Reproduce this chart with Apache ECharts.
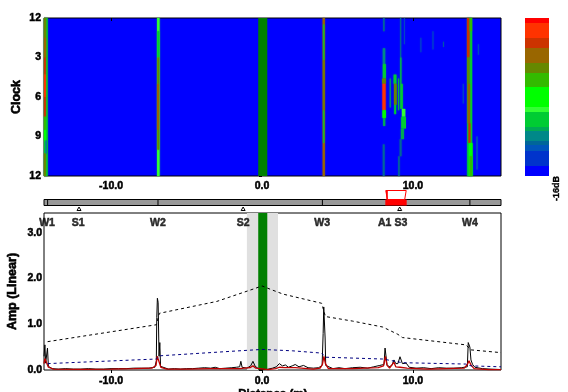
<!DOCTYPE html>
<html><head><meta charset="utf-8"><style>html,body{margin:0;padding:0;background:#fff}#c{width:568px;height:392px}</style>
<script src="https://cdn.jsdelivr.net/npm/echarts@6/dist/echarts.min.js"></script></head><body><div id="c"></div><script>
const xMin=-14.44, xMax=15.83, ampMax=3.435;
const xTicks=[-10,0,10], ampTicks=[0,1,2,3], clockTicks=[0,3,6,9,12];
const levelColors=['#0000ff','#0033cc','#0055bb','#006699','#008888','#00aa55','#00cc33','#33ff33','#00ff00','#33bb00','#668800','#996600','#cc3300','#ff3300','#ff0000'];
const bandSizes=[10,15,6,4,10,4,15,5,20,14,10,15,10,15,5];
// [xFrom,xTo,clockFrom,clockTo,level]
const streaks=[
[-14.44,-14.2,0,12,6],[-14.44,-14.3,0,1.5,10],[-14.44,-14.3,1.5,3,11],[-14.44,-14.32,3,4.3,12],[-14.44,-14.32,4.3,6,13],[-14.44,-14.32,6,7.5,12],[-14.44,-14.32,7.5,8.5,9],[-14.44,-14.32,8.5,9.3,8],[-14.34,-14.24,9.3,10.3,4],[-14.44,-14.32,10.3,12,10],
[-6.95,-6.79,0,12,7],[-6.93,-6.81,1,3,6],[-6.93,-6.81,3,5,10],[-6.95,-6.81,5,8.5,11],[-6.93,-6.81,8.5,10,10],
[4.02,4.16,0,12,11],[4.06,4.12,0.5,3.2,6],[4.06,4.12,3.2,7,10],[4.06,4.12,7,9.5,6],
[8.0,8.16,2.3,3.5,4],[8.0,8.2,3.5,4.6,6],[7.96,8.2,4.6,5.0,10],[7.98,8.18,5.0,7.0,13],[7.98,8.2,7.0,7.6,8],[8.02,8.16,7.6,8.2,5],
[8.02,8.12,0,1,3],[8.0,8.12,9.6,12,3],
[8.46,8.52,4.6,6.8,5],
[8.72,8.9,4.3,5,6],[8.74,8.92,5,6.6,10],[8.76,8.88,6.6,7.3,6],
[9.02,9.08,4.6,7,6],
[9.14,9.22,0,3,3],[9.14,9.24,3,5,5],[9.16,9.32,5,6.9,6],[9.26,9.5,6.9,7.5,7],[9.22,9.54,7.5,8.4,6],[9.2,9.4,8.4,9.2,5],[9.12,9.24,9.2,10.5,3],[9.02,9.12,10.5,12,3],
[9.4,9.45,0,2,2],[10.5,10.55,1.5,2.6,2],[11.3,11.35,1,2.4,2],[12,12.05,1.8,2.2,3],[14.3,14.35,2,2.8,2],[14.2,14.28,9,11.5,2],[13.3,13.35,5,6.5,2],
[13.6,13.93,0,12,6],[13.58,13.74,0,3,12],[13.6,13.74,3,5,10],[13.62,13.78,5,8,11],[13.68,13.8,8,9.5,12],[13.72,13.94,9.5,12,8],[13.76,13.9,0,1,9],[13.76,13.9,10.5,12,9]
];
const markerNames=['W1','S1','W2','S2','W3','A1','S3','W4'];
const labelX=[-14.24,-12.18,-6.89,-1.25,3.98,8.12,9.2,13.77];
const weldX=[-14.2,-6.89,4.0,13.77];
const sensorX=[-12.12,-1.25,9.12];
const upperEnv=[[-14.2,0.62],[-7.0,0.99],[-6.8,1.24],[-3,1.5],[-0.5,1.78],[0,1.84],[0.6,1.76],[1.4,1.66],[3.95,1.46],[4.2,1.17],[6,1.07],[8,0.94],[9,0.78],[9.3,0.71],[13.5,0.55],[13.85,0.44],[15.83,0.38]];
const lowerEnv=[[-14.2,0.14],[-7.0,0.24],[-6.8,0.31],[-2,0.41],[0,0.45],[2,0.42],[3.95,0.37],[4.2,0.28],[8,0.24],[9.3,0.16],[13.5,0.13],[13.85,0.09],[15.83,0.07]];
const blackTrace=[[-14.44,0.3],[-14.38,0.55],[-14.33,0.15],[-14.26,0.12],[-14.21,0.48],[-14.15,0.08],[-13.9,0.03],[-13.5,0.02],[-13,0.03],[-12.5,0.02],[-12,0.02],[-11.5,0.03],[-11,0.02],[-10.5,0.02],[-10,0.03],[-9.5,0.03],[-9,0.03],[-8.5,0.04],[-8,0.04],[-7.5,0.04],[-7.1,0.06],[-7.0,0.2],[-6.97,1.15],[-6.93,1.57],[-6.88,1.48],[-6.82,0.3],[-6.77,0.6],[-6.72,0.08],[-6.2,0.02],[-5.8,0.03],[-5.4,0.02],[-5,0.03],[-4.6,0.03],[-4.2,0.04],[-3.8,0.05],[-3.4,0.04],[-3.1,0.06],[-2.8,0.03],[-2.4,0.04],[-2.0,0.05],[-1.7,0.06],[-1.48,0.07],[-1.4,0.19],[-1.32,0.06],[-1.0,0.04],[-0.75,0.09],[-0.6,0.19],[-0.45,0.08],[-0.2,0.02],[0.3,0.01],[0.7,0.04],[0.95,0.07],[1.15,0.14],[1.35,0.09],[1.55,0.11],[1.75,0.06],[2.0,0.09],[2.2,0.12],[2.45,0.07],[2.75,0.1],[3.05,0.05],[3.4,0.04],[3.75,0.05],[3.98,0.1],[4.05,0.8],[4.09,1.38],[4.14,1.38],[4.18,0.7],[4.22,0.1],[4.35,0.06],[4.7,0.03],[5.1,0.05],[5.5,0.03],[6,0.05],[6.5,0.06],[7,0.04],[7.4,0.07],[7.8,0.1],[8.08,0.12],[8.15,0.48],[8.22,0.47],[8.28,0.12],[8.42,0.07],[8.6,0.1],[8.74,0.22],[8.86,0.14],[9.0,0.14],[9.14,0.29],[9.3,0.14],[9.55,0.15],[9.75,0.06],[10.2,0.04],[10.7,0.05],[11.2,0.03],[11.7,0.05],[12.2,0.04],[12.7,0.04],[13.2,0.05],[13.6,0.07],[13.66,0.6],[13.71,0.63],[13.77,0.5],[13.84,0.22],[13.95,0.12],[14.1,0.06],[14.6,0.03],[15.1,0.02],[15.83,0.01]];
const redTrace=[[-14.44,0.14],[-14.38,0.25],[-14.25,0.22],[-14.15,0.06],[-13.8,0.02],[-12,0.015],[-10,0.02],[-8.5,0.03],[-7.3,0.04],[-7.02,0.1],[-6.94,0.3],[-6.82,0.28],[-6.7,0.06],[-6.3,0.02],[-5,0.02],[-3.5,0.03],[-1.5,0.03],[-0.8,0.05],[-0.6,0.09],[-0.4,0.04],[0.4,0.01],[0.9,0.03],[1.15,0.06],[1.5,0.05],[2.2,0.05],[3.4,0.02],[3.85,0.04],[4.0,0.12],[4.1,0.3],[4.2,0.14],[4.4,0.03],[6,0.03],[7.7,0.05],[8.05,0.09],[8.17,0.3],[8.28,0.1],[8.45,0.04],[8.74,0.17],[8.86,0.07],[9.14,0.06],[9.6,0.04],[11,0.02],[13.4,0.04],[13.6,0.12],[13.71,0.2],[13.86,0.1],[14.05,0.03],[15,0.01],[15.83,0.01]];
const grayBand=[-1,1.06], greenBand=[-0.25,0.35];
const boxRange=[8.2,9.55];

const font={fontFamily:'Liberation Sans',fontWeight:'bold',fontSize:10.5,color:'#000',textBorderColor:'#000',textBorderWidth:0.5};
const nameFont={fontFamily:'Liberation Sans',fontWeight:'bold',fontSize:12.5,color:'#000',textBorderColor:'#000',textBorderWidth:0.6};
const ax=(i,extra)=>Object.assign({type:'value',gridIndex:i,min:xMin,max:xMax,splitLine:{show:false},
  axisLine:{show:false},axisTick:{show:false},axisLabel:{show:false}},extra);
const tickAxis=(i,lm)=>ax(i,{axisTick:{show:true,length:3,inside:false,customValues:xTicks,lineStyle:{color:'#000'}},
  axisLabel:Object.assign({show:true,margin:lm,customValues:xTicks,formatter:v=>v.toFixed(1)},font)});
const border={show:true,borderColor:'#000',borderWidth:1,outerBoundsMode:'none'};
const option={animation:false,backgroundColor:'#fff',
 grid:[
  Object.assign({left:44,top:18,width:457,height:158,backgroundColor:'#0000ff'},border),
  Object.assign({left:44,top:213,width:457,height:157,backgroundColor:'#fff'},border),
  Object.assign({left:44,top:199.5,width:457,height:6,backgroundColor:'#999'},border),
  {left:525,top:18,width:24,height:158,show:false,outerBoundsMode:'none'}
 ],
 xAxis:[tickAxis(0,5),tickAxis(1,6),ax(2,{}),
  {type:'value',gridIndex:3,min:0,max:1,show:false}],
 yAxis:[
  {type:'value',gridIndex:0,min:0,max:12,inverse:true,splitLine:{show:false},axisLine:{show:false},
   axisTick:{show:true,length:3,customValues:clockTicks,lineStyle:{color:'#000'}},
   axisLabel:Object.assign({margin:3,customValues:clockTicks,formatter:v=>v===0?'12':String(v)},font),
   name:'Clock',nameLocation:'middle',nameGap:21,nameMoveOverlap:false,nameTextStyle:nameFont},
  {type:'value',gridIndex:1,min:0,max:ampMax,splitLine:{show:false},axisLine:{show:false},
   axisTick:{show:true,length:3,customValues:ampTicks,lineStyle:{color:'#000'}},
   axisLabel:Object.assign({margin:2,customValues:ampTicks,formatter:v=>v.toFixed(1)},font),
   name:'Amp (Linear)',nameLocation:'middle',nameGap:24.5,nameMoveOverlap:false,nameTextStyle:nameFont},
  {type:'value',gridIndex:2,min:0,max:1,show:false},
  {type:'value',gridIndex:3,min:0,max:158,show:false}
 ],
 series:[
  {type:'custom',xAxisIndex:0,yAxisIndex:0,data:streaks,
   encode:{x:[0,1],y:[2,3]},
   renderItem:(p,api)=>{const a=api.coord([api.value(0),api.value(2)]),b=api.coord([api.value(1),api.value(3)]);
     const c=levelColors[api.value(4)];
     return {type:'rect',shape:{x:a[0],y:a[1],width:b[0]-a[0],height:b[1]-a[1]},style:{fill:c,shadowBlur:1.5,shadowColor:c}};}},
  {type:'custom',xAxisIndex:0,yAxisIndex:0,z:3,data:[[greenBand[0],greenBand[1]]],encode:{x:[0,1]},
   renderItem:(p,api)=>{const a=api.coord([api.value(0),0]),b=api.coord([api.value(1),12]);
     return {type:'rect',shape:{x:a[0],y:a[1],width:b[0]-a[0],height:b[1]-a[1]},style:{fill:'#008000'}};}},
  {type:'custom',xAxisIndex:3,yAxisIndex:3,data:bandSizes.map((s,i)=>[i,s]),
   renderItem:(p,api)=>{const i=api.value(0);const start=bandSizes.slice(0,i).reduce((a,b)=>a+b,0);
     const a=api.coord([0,start]),b=api.coord([1,start+api.value(1)]);
     return {type:'rect',shape:{x:a[0],y:b[1],width:b[0]-a[0],height:a[1]-b[1]},style:{fill:levelColors[i]}};}},
  {type:'line',xAxisIndex:1,yAxisIndex:1,data:blackTrace,symbol:'none',z:3,lineStyle:{color:'#000',width:1},
   markArea:{silent:true,z:1,data:[
     [{xAxis:grayBand[0],itemStyle:{color:'#e0e0e0'}},{xAxis:grayBand[1]}],
     [{xAxis:greenBand[0],itemStyle:{color:'#008000'}},{xAxis:greenBand[1]}]]}},
  {type:'line',xAxisIndex:1,yAxisIndex:1,data:redTrace,symbol:'none',z:4,lineStyle:{color:'#c00000',width:1.3}},
  {type:'line',xAxisIndex:1,yAxisIndex:1,data:upperEnv,symbol:'none',z:5,lineStyle:{color:'#000',width:1,type:[3,3]}},
  {type:'line',xAxisIndex:1,yAxisIndex:1,data:lowerEnv,symbol:'none',z:5,lineStyle:{color:'#000080',width:1,type:[3,3]}},
  {type:'scatter',xAxisIndex:1,yAxisIndex:1,symbolSize:0,z:6,clip:false,data:markerNames.map((n,i)=>({value:[labelX[i],3.22],name:n})),
   label:Object.assign({show:true,position:'inside',formatter:p=>p.name},font)},
  {type:'custom',xAxisIndex:2,yAxisIndex:2,z:6,clip:false,data:weldX.map(v=>[v]),encode:{x:0},
   renderItem:(p,api)=>{const a=api.coord([api.value(0),0]),b=api.coord([api.value(0),1]);
     return {type:'line',shape:{x1:a[0],y1:a[1],x2:b[0],y2:b[1]},style:{stroke:'#000',lineWidth:1}};}},
  {type:'custom',xAxisIndex:2,yAxisIndex:2,z:6,clip:false,data:sensorX.map(v=>[v]),encode:{x:0},
   renderItem:(p,api)=>{const a=api.coord([api.value(0),0]);
     return {type:'polygon',shape:{points:[[a[0],a[1]+1.5],[a[0]-2,a[1]+5],[a[0]+2,a[1]+5]]},style:{fill:'#fff',stroke:'#000',lineWidth:1}};}},
  {type:'custom',xAxisIndex:2,yAxisIndex:2,z:8,clip:false,data:[boxRange],encode:{x:[0,1]},
   renderItem:(p,api)=>{const a=api.coord([api.value(0),1]),b=api.coord([api.value(1),0]);
     const top=a[1]-9;
     return {type:'group',children:[
       {type:'polygon',shape:{points:[[a[0],top],[b[0],top],[b[0]-1.5,a[1]],[a[0]+1.5,a[1]]]},style:{fill:'#fff',stroke:'#ff0000',lineWidth:1}},
       {type:'polygon',shape:{points:[[a[0],top],[a[0]+2,top],[a[0]+2,a[1]],[a[0]+0.7,a[1]]]},style:{fill:'#ff0000'}},
       {type:'rect',shape:{x:a[0]-0.5,y:a[1],width:b[0]-a[0]+1,height:b[1]-a[1]},style:{fill:'#ff0000'}}]};}}
 ],
 graphic:[
  {type:'text',left:238,top:387.5,style:{text:'Distance (m)',fontFamily:'Liberation Sans',fontWeight:'bold',fontSize:11.5,fill:'#000',stroke:'#000',lineWidth:0.5}},
  {type:'text',x:552,y:176,rotation:Math.PI/2,style:{text:'-16dB',fontFamily:'Liberation Sans',fontWeight:'bold',fontSize:9,fill:'#000',stroke:'#000',lineWidth:0.4,align:'right',verticalAlign:'top'}}
 ]
};
echarts.init(document.getElementById('c'),null,{renderer:'canvas'}).setOption(option);
</script></body></html>
